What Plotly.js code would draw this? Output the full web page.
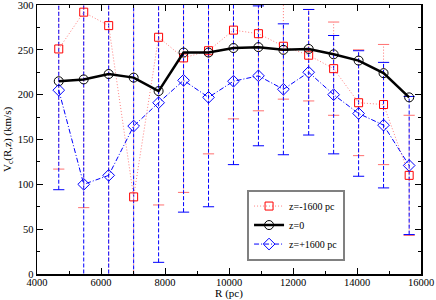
<!DOCTYPE html>
<html><head><meta charset="utf-8">
<script src="https://cdn.plot.ly/plotly-3.0.1.min.js"></script>
<style>html,body{margin:0;padding:0;background:#fff}#c{width:436px;height:300px}</style>
</head><body><div id="c"></div>
<script>
const R = [4680, 5460, 6240, 7020, 7800, 8580, 9360, 10140, 10920, 11700, 12490, 13270, 14050, 14830, 15630];
const vcZ0 = [215, 217, 223, 219, 204, 247, 247, 252, 253, 250, 251, 245, 238, 224, 197];
const vcMinus = [251, 292, 277, 86, 264, 241, 249, 272, 268, 254, 244, 229, 191, 189, 110];
const errMinus = [134, 218, 290, 220, 187, 150, 115, 99, 86, 59, 51, 52, 59, 67, 67];
const vcPlus = [205, 100, 110, 165, 191, 216, 197, 215, 221, 206, 225, 200, 179, 166, 121];
const errPlus = [111, 260, 250, 200, 178, 147, 122, 93, 78, 73, 70, 66, 70, 70, 77];
const names = ["z=-1600 pc", "z=0", "z=+1600 pc"];

function segs(x, v, e) {
  const xs = [], ys = [];
  x.forEach((r, i) => { xs.push(r, r, null); ys.push(v[i] - e[i], v[i] + e[i], null); });
  return {x: xs, y: ys};
}
function caps(x, v, e) {
  const xs = [], ys = [];
  x.forEach((r, i) => { xs.push(r, r); ys.push(v[i] - e[i], v[i] + e[i]); });
  return {x: xs, y: ys};
}
const redC = '#ff7070', blueC = '#0000ff';
const sM = segs(R, vcMinus, errMinus), cM = caps(R, vcMinus, errMinus);
const sP = segs(R, vcPlus, errPlus), cP = caps(R, vcPlus, errPlus);

const traces = [
  {x: sM.x, y: sM.y, mode: 'lines', line: {color: redC, width: 1, dash: '1px,2px'}, showlegend: false, hoverinfo: 'skip'},
  {x: cM.x, y: cM.y, mode: 'markers', marker: {symbol: 'line-ew', size: 8, line: {color: redC, width: 1}}, showlegend: false, hoverinfo: 'skip'},
  {x: sP.x, y: sP.y, mode: 'lines', line: {color: blueC, width: 1, dash: '4px,2px'}, showlegend: false, hoverinfo: 'skip'},
  {x: cP.x, y: cP.y, mode: 'markers', marker: {symbol: 'line-ew', size: 8, line: {color: blueC, width: 1}}, showlegend: false, hoverinfo: 'skip'},
  {x: R, y: vcMinus, name: names[0], mode: 'lines+markers',
   line: {color: '#ff8080', width: 1, dash: '1px,2px'},
   marker: {symbol: 'square-open', size: 8, color: '#ff0000', line: {width: 1}}},
  {x: R, y: vcZ0, name: names[1], mode: 'lines+markers',
   line: {color: '#000000', width: 2.5},
   marker: {symbol: 'circle-open', size: 9, color: '#000000', line: {width: 1}}},
  {x: R, y: vcPlus, name: names[2], mode: 'lines+markers',
   line: {color: blueC, width: 1, dash: '5px,2px,1px,2px'},
   marker: {symbol: 'diamond-open', size: 9, color: blueC, line: {width: 1}}}
];

const tickFont = {family: 'Liberation Serif', size: 10.5, color: '#000'};
const layout = {
  width: 436, height: 300,
  margin: {l: 37, r: 15, t: 5, b: 26},
  paper_bgcolor: '#fff', plot_bgcolor: '#fff',
  font: {family: 'Liberation Serif', size: 11, color: '#000'},
  xaxis: {
    range: [4000, 16000], dtick: 2000, tick0: 4000, tickformat: 'd', ticklabeloverflow: 'allow',
    ticks: 'inside', ticklen: 6, tickcolor: '#000', ticklabelstandoff: -2, automargin: false,
    minor: {dtick: 1000, ticks: 'inside', ticklen: 3, tickcolor: '#000'},
    showgrid: false, zeroline: false, showline: true, linecolor: '#000', linewidth: 1.5, mirror: 'ticks',
    tickfont: tickFont, title: {text: 'R (pc)', font: {family: 'Liberation Serif', size: 11}, standoff: 3}
  },
  yaxis: {
    range: [0, 300], dtick: 50, tickformat: 'd', ticklabeloverflow: 'allow',
    ticks: 'inside', ticklen: 6, tickcolor: '#000',
    minor: {dtick: 25, ticks: 'inside', ticklen: 3, tickcolor: '#000'},
    showgrid: false, zeroline: false, showline: true, linecolor: '#000', linewidth: 1.5, mirror: 'ticks',
    tickfont: tickFont, title: {text: 'V<sub>c</sub>(R,z) (km/s)', font: {family: 'Liberation Serif', size: 11}, standoff: 4}
  },
  showlegend: true,
  legend: {x: 0.547, y: 0.05, xanchor: 'left', yanchor: 'bottom', bgcolor: '#fff',
           bordercolor: '#808080', borderwidth: 2, font: {family: 'Liberation Serif', size: 10},
           tracegroupgap: 0, itemwidth: 30}
};
Plotly.newPlot('c', traces, layout, {staticPlot: true});
</script></body></html>
